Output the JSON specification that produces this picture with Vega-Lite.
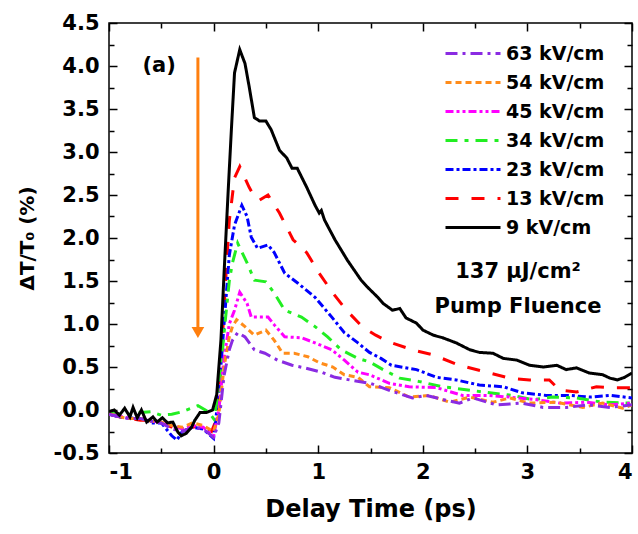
{
  "$schema": "https://vega.github.io/schema/vega-lite/v6.json",
  "width": 523,
  "height": 430,
  "autosize": {"type": "none"},
  "padding": {"left": 109, "top": 23, "right": 6, "bottom": 81},
  "config": {
    "font": "DejaVu Sans",
    "view": {"stroke": "black", "strokeWidth": 1.5},
    "axis": {"domain": false, "grid": false, "labelFont": "DejaVu Sans", "labelFontWeight": "bold", "labelFontSize": 21, "labelColor": "black", "titleFont": "DejaVu Sans", "titleFontWeight": "bold", "titleColor": "black", "tickColor": "black", "tickWidth": 1.5, "labelOverlap": false}
  },
  "datasets": {
    "curves": [
      {"s":"13 kV/cm","x":-1,"y":-0.05},{"s":"13 kV/cm","x":-0.9,"y":-0.08},{"s":"13 kV/cm","x":-0.8,"y":-0.1},{"s":"13 kV/cm","x":-0.7,"y":-0.12},{"s":"13 kV/cm","x":-0.6,"y":-0.12},{"s":"13 kV/cm","x":-0.5,"y":-0.15},{"s":"13 kV/cm","x":-0.4,"y":-0.2},{"s":"13 kV/cm","x":-0.3,"y":-0.25},{"s":"13 kV/cm","x":-0.2,"y":-0.2},{"s":"13 kV/cm","x":-0.1,"y":-0.18},{"s":"13 kV/cm","x":-0.02,"y":-0.25},{"s":"13 kV/cm","x":0.03,"y":-0.1},{"s":"13 kV/cm","x":0.07,"y":0.5},{"s":"13 kV/cm","x":0.1,"y":1.2},{"s":"13 kV/cm","x":0.15,"y":2.2},{"s":"13 kV/cm","x":0.2,"y":2.7},{"s":"13 kV/cm","x":0.25,"y":2.83},{"s":"13 kV/cm","x":0.34,"y":2.59},{"s":"13 kV/cm","x":0.4,"y":2.46},{"s":"13 kV/cm","x":0.44,"y":2.44},{"s":"13 kV/cm","x":0.52,"y":2.5},{"s":"13 kV/cm","x":0.63,"y":2.29},{"s":"13 kV/cm","x":0.76,"y":1.98},{"s":"13 kV/cm","x":0.89,"y":1.83},{"s":"13 kV/cm","x":1.01,"y":1.59},{"s":"13 kV/cm","x":1.14,"y":1.36},{"s":"13 kV/cm","x":1.27,"y":1.16},{"s":"13 kV/cm","x":1.42,"y":0.97},{"s":"13 kV/cm","x":1.55,"y":0.87},{"s":"13 kV/cm","x":1.68,"y":0.79},{"s":"13 kV/cm","x":1.9,"y":0.7},{"s":"13 kV/cm","x":2.1,"y":0.64},{"s":"13 kV/cm","x":2.35,"y":0.52},{"s":"13 kV/cm","x":2.61,"y":0.44},{"s":"13 kV/cm","x":2.83,"y":0.37},{"s":"13 kV/cm","x":3.02,"y":0.35},{"s":"13 kV/cm","x":3.21,"y":0.35},{"s":"13 kV/cm","x":3.31,"y":0.23},{"s":"13 kV/cm","x":3.47,"y":0.21},{"s":"13 kV/cm","x":3.66,"y":0.27},{"s":"13 kV/cm","x":3.79,"y":0.26},{"s":"13 kV/cm","x":4.0,"y":0.26},

      {"s":"23 kV/cm","x":-1,"y":-0.05},{"s":"23 kV/cm","x":-0.9,"y":-0.08},{"s":"23 kV/cm","x":-0.8,"y":-0.1},{"s":"23 kV/cm","x":-0.7,"y":-0.08},{"s":"23 kV/cm","x":-0.6,"y":-0.15},{"s":"23 kV/cm","x":-0.5,"y":-0.15},{"s":"23 kV/cm","x":-0.4,"y":-0.3},{"s":"23 kV/cm","x":-0.35,"y":-0.35},{"s":"23 kV/cm","x":-0.3,"y":-0.25},{"s":"23 kV/cm","x":-0.2,"y":-0.2},{"s":"23 kV/cm","x":-0.1,"y":-0.22},{"s":"23 kV/cm","x":0,"y":-0.33},{"s":"23 kV/cm","x":0.05,"y":0.2},{"s":"23 kV/cm","x":0.1,"y":1.0},{"s":"23 kV/cm","x":0.15,"y":1.8},{"s":"23 kV/cm","x":0.2,"y":2.15},{"s":"23 kV/cm","x":0.27,"y":2.38},{"s":"23 kV/cm","x":0.32,"y":2.25},{"s":"23 kV/cm","x":0.36,"y":2.01},{"s":"23 kV/cm","x":0.42,"y":1.88},{"s":"23 kV/cm","x":0.52,"y":1.92},{"s":"23 kV/cm","x":0.58,"y":1.83},{"s":"23 kV/cm","x":0.68,"y":1.59},{"s":"23 kV/cm","x":0.8,"y":1.48},{"s":"23 kV/cm","x":0.97,"y":1.31},{"s":"23 kV/cm","x":1.13,"y":1.08},{"s":"23 kV/cm","x":1.25,"y":0.9},{"s":"23 kV/cm","x":1.38,"y":0.78},{"s":"23 kV/cm","x":1.49,"y":0.67},{"s":"23 kV/cm","x":1.6,"y":0.6},{"s":"23 kV/cm","x":1.7,"y":0.52},{"s":"23 kV/cm","x":1.94,"y":0.47},{"s":"23 kV/cm","x":2.13,"y":0.38},{"s":"23 kV/cm","x":2.32,"y":0.35},{"s":"23 kV/cm","x":2.54,"y":0.29},{"s":"23 kV/cm","x":2.77,"y":0.27},{"s":"23 kV/cm","x":2.95,"y":0.2},{"s":"23 kV/cm","x":3.18,"y":0.17},{"s":"23 kV/cm","x":3.4,"y":0.17},{"s":"23 kV/cm","x":3.59,"y":0.15},{"s":"23 kV/cm","x":3.79,"y":0.17},{"s":"23 kV/cm","x":4.0,"y":0.14},

      {"s":"34 kV/cm","x":-1,"y":-0.02},{"s":"34 kV/cm","x":-0.9,"y":-0.05},{"s":"34 kV/cm","x":-0.8,"y":-0.05},{"s":"34 kV/cm","x":-0.7,"y":-0.03},{"s":"34 kV/cm","x":-0.6,"y":-0.02},{"s":"34 kV/cm","x":-0.5,"y":-0.06},{"s":"34 kV/cm","x":-0.4,"y":-0.05},{"s":"34 kV/cm","x":-0.3,"y":-0.02},{"s":"34 kV/cm","x":-0.15,"y":0.05},{"s":"34 kV/cm","x":-0.05,"y":-0.02},{"s":"34 kV/cm","x":0,"y":-0.1},{"s":"34 kV/cm","x":0.05,"y":0.2},{"s":"34 kV/cm","x":0.1,"y":0.9},{"s":"34 kV/cm","x":0.15,"y":1.5},{"s":"34 kV/cm","x":0.18,"y":1.71},{"s":"34 kV/cm","x":0.23,"y":1.94},{"s":"34 kV/cm","x":0.32,"y":1.71},{"s":"34 kV/cm","x":0.39,"y":1.51},{"s":"34 kV/cm","x":0.5,"y":1.49},{"s":"34 kV/cm","x":0.58,"y":1.36},{"s":"34 kV/cm","x":0.68,"y":1.16},{"s":"34 kV/cm","x":0.84,"y":1.08},{"s":"34 kV/cm","x":0.97,"y":0.97},{"s":"34 kV/cm","x":1.09,"y":0.85},{"s":"34 kV/cm","x":1.22,"y":0.7},{"s":"34 kV/cm","x":1.38,"y":0.6},{"s":"34 kV/cm","x":1.49,"y":0.56},{"s":"34 kV/cm","x":1.62,"y":0.47},{"s":"34 kV/cm","x":1.78,"y":0.37},{"s":"34 kV/cm","x":1.97,"y":0.33},{"s":"34 kV/cm","x":2.19,"y":0.27},{"s":"34 kV/cm","x":2.45,"y":0.23},{"s":"34 kV/cm","x":2.64,"y":0.2},{"s":"34 kV/cm","x":2.86,"y":0.17},{"s":"34 kV/cm","x":3.05,"y":0.12},{"s":"34 kV/cm","x":3.24,"y":0.15},{"s":"34 kV/cm","x":3.47,"y":0.14},{"s":"34 kV/cm","x":3.72,"y":0.09},{"s":"34 kV/cm","x":4.0,"y":0.08},

      {"s":"45 kV/cm","x":-1,"y":-0.05},{"s":"45 kV/cm","x":-0.9,"y":-0.07},{"s":"45 kV/cm","x":-0.8,"y":-0.1},{"s":"45 kV/cm","x":-0.7,"y":-0.1},{"s":"45 kV/cm","x":-0.6,"y":-0.12},{"s":"45 kV/cm","x":-0.5,"y":-0.15},{"s":"45 kV/cm","x":-0.4,"y":-0.18},{"s":"45 kV/cm","x":-0.3,"y":-0.22},{"s":"45 kV/cm","x":-0.2,"y":-0.18},{"s":"45 kV/cm","x":-0.1,"y":-0.2},{"s":"45 kV/cm","x":0,"y":-0.3},{"s":"45 kV/cm","x":0.05,"y":0.0},{"s":"45 kV/cm","x":0.1,"y":0.6},{"s":"45 kV/cm","x":0.15,"y":1.0},{"s":"45 kV/cm","x":0.2,"y":1.16},{"s":"45 kV/cm","x":0.25,"y":1.37},{"s":"45 kV/cm","x":0.32,"y":1.24},{"s":"45 kV/cm","x":0.36,"y":1.08},{"s":"45 kV/cm","x":0.46,"y":1.08},{"s":"45 kV/cm","x":0.52,"y":1.08},{"s":"45 kV/cm","x":0.58,"y":0.99},{"s":"45 kV/cm","x":0.68,"y":0.85},{"s":"45 kV/cm","x":0.84,"y":0.84},{"s":"45 kV/cm","x":0.97,"y":0.78},{"s":"45 kV/cm","x":1.13,"y":0.7},{"s":"45 kV/cm","x":1.25,"y":0.58},{"s":"45 kV/cm","x":1.38,"y":0.44},{"s":"45 kV/cm","x":1.49,"y":0.41},{"s":"45 kV/cm","x":1.68,"y":0.31},{"s":"45 kV/cm","x":1.87,"y":0.27},{"s":"45 kV/cm","x":2.13,"y":0.26},{"s":"45 kV/cm","x":2.38,"y":0.17},{"s":"45 kV/cm","x":2.61,"y":0.17},{"s":"45 kV/cm","x":2.83,"y":0.15},{"s":"45 kV/cm","x":3.09,"y":0.12},{"s":"45 kV/cm","x":3.31,"y":0.08},{"s":"45 kV/cm","x":3.57,"y":0.09},{"s":"45 kV/cm","x":3.79,"y":0.06},{"s":"45 kV/cm","x":4.0,"y":0.08},

      {"s":"54 kV/cm","x":-1,"y":-0.04},{"s":"54 kV/cm","x":-0.9,"y":-0.08},{"s":"54 kV/cm","x":-0.8,"y":-0.1},{"s":"54 kV/cm","x":-0.7,"y":-0.1},{"s":"54 kV/cm","x":-0.6,"y":-0.13},{"s":"54 kV/cm","x":-0.5,"y":-0.14},{"s":"54 kV/cm","x":-0.4,"y":-0.18},{"s":"54 kV/cm","x":-0.3,"y":-0.2},{"s":"54 kV/cm","x":-0.2,"y":-0.15},{"s":"54 kV/cm","x":-0.1,"y":-0.18},{"s":"54 kV/cm","x":0,"y":-0.25},{"s":"54 kV/cm","x":0.05,"y":-0.05},{"s":"54 kV/cm","x":0.1,"y":0.5},{"s":"54 kV/cm","x":0.15,"y":0.85},{"s":"54 kV/cm","x":0.18,"y":0.97},{"s":"54 kV/cm","x":0.22,"y":1.05},{"s":"54 kV/cm","x":0.3,"y":0.97},{"s":"54 kV/cm","x":0.39,"y":0.87},{"s":"54 kV/cm","x":0.5,"y":0.93},{"s":"54 kV/cm","x":0.58,"y":0.81},{"s":"54 kV/cm","x":0.66,"y":0.66},{"s":"54 kV/cm","x":0.77,"y":0.66},{"s":"54 kV/cm","x":0.9,"y":0.62},{"s":"54 kV/cm","x":1.01,"y":0.55},{"s":"54 kV/cm","x":1.14,"y":0.5},{"s":"54 kV/cm","x":1.25,"y":0.41},{"s":"54 kV/cm","x":1.38,"y":0.38},{"s":"54 kV/cm","x":1.49,"y":0.27},{"s":"54 kV/cm","x":1.68,"y":0.26},{"s":"54 kV/cm","x":1.87,"y":0.15},{"s":"54 kV/cm","x":2.06,"y":0.17},{"s":"54 kV/cm","x":2.26,"y":0.09},{"s":"54 kV/cm","x":2.45,"y":0.15},{"s":"54 kV/cm","x":2.67,"y":0.09},{"s":"54 kV/cm","x":2.83,"y":0.14},{"s":"54 kV/cm","x":3.02,"y":0.08},{"s":"54 kV/cm","x":3.28,"y":0.09},{"s":"54 kV/cm","x":3.53,"y":0.03},{"s":"54 kV/cm","x":3.72,"y":0.08},{"s":"54 kV/cm","x":3.91,"y":0.02},{"s":"54 kV/cm","x":4.0,"y":0.06},

      {"s":"63 kV/cm","x":-1,"y":-0.05},{"s":"63 kV/cm","x":-0.9,"y":-0.08},{"s":"63 kV/cm","x":-0.8,"y":-0.1},{"s":"63 kV/cm","x":-0.7,"y":-0.1},{"s":"63 kV/cm","x":-0.6,"y":-0.13},{"s":"63 kV/cm","x":-0.5,"y":-0.15},{"s":"63 kV/cm","x":-0.4,"y":-0.22},{"s":"63 kV/cm","x":-0.3,"y":-0.25},{"s":"63 kV/cm","x":-0.2,"y":-0.2},{"s":"63 kV/cm","x":-0.1,"y":-0.22},{"s":"63 kV/cm","x":0,"y":-0.32},{"s":"63 kV/cm","x":0.05,"y":-0.15},{"s":"63 kV/cm","x":0.1,"y":0.4},{"s":"63 kV/cm","x":0.15,"y":0.7},{"s":"63 kV/cm","x":0.18,"y":0.81},{"s":"63 kV/cm","x":0.23,"y":0.9},{"s":"63 kV/cm","x":0.3,"y":0.85},{"s":"63 kV/cm","x":0.39,"y":0.7},{"s":"63 kV/cm","x":0.49,"y":0.66},{"s":"63 kV/cm","x":0.61,"y":0.58},{"s":"63 kV/cm","x":0.75,"y":0.52},{"s":"63 kV/cm","x":0.87,"y":0.49},{"s":"63 kV/cm","x":1.03,"y":0.44},{"s":"63 kV/cm","x":1.16,"y":0.38},{"s":"63 kV/cm","x":1.3,"y":0.35},{"s":"63 kV/cm","x":1.5,"y":0.31},{"s":"63 kV/cm","x":1.7,"y":0.22},{"s":"63 kV/cm","x":1.9,"y":0.14},{"s":"63 kV/cm","x":2.03,"y":0.17},{"s":"63 kV/cm","x":2.2,"y":0.12},{"s":"63 kV/cm","x":2.35,"y":0.08},{"s":"63 kV/cm","x":2.48,"y":0.14},{"s":"63 kV/cm","x":2.7,"y":0.06},{"s":"63 kV/cm","x":2.95,"y":0.08},{"s":"63 kV/cm","x":3.15,"y":0.03},{"s":"63 kV/cm","x":3.37,"y":0.03},{"s":"63 kV/cm","x":3.59,"y":0.06},{"s":"63 kV/cm","x":3.79,"y":0.03},{"s":"63 kV/cm","x":4.0,"y":0.06},

      {"s":"9 kV/cm","x":-1,"y":-0.02},{"s":"9 kV/cm","x":-0.95,"y":0},{"s":"9 kV/cm","x":-0.9,"y":-0.06},{"s":"9 kV/cm","x":-0.85,"y":0.02},{"s":"9 kV/cm","x":-0.8,"y":-0.08},{"s":"9 kV/cm","x":-0.77,"y":0.03},{"s":"9 kV/cm","x":-0.73,"y":-0.09},{"s":"9 kV/cm","x":-0.69,"y":0},{"s":"9 kV/cm","x":-0.64,"y":-0.14},{"s":"9 kV/cm","x":-0.58,"y":-0.08},{"s":"9 kV/cm","x":-0.54,"y":-0.14},{"s":"9 kV/cm","x":-0.49,"y":-0.09},{"s":"9 kV/cm","x":-0.44,"y":-0.15},{"s":"9 kV/cm","x":-0.39,"y":-0.14},{"s":"9 kV/cm","x":-0.34,"y":-0.26},{"s":"9 kV/cm","x":-0.31,"y":-0.3},{"s":"9 kV/cm","x":-0.26,"y":-0.27},{"s":"9 kV/cm","x":-0.21,"y":-0.2},{"s":"9 kV/cm","x":-0.18,"y":-0.12},{"s":"9 kV/cm","x":-0.13,"y":-0.03},{"s":"9 kV/cm","x":-0.07,"y":-0.03},{"s":"9 kV/cm","x":-0.01,"y":0},{"s":"9 kV/cm","x":0.03,"y":0.18},{"s":"9 kV/cm","x":0.07,"y":0.81},{"s":"9 kV/cm","x":0.1,"y":1.59},{"s":"9 kV/cm","x":0.14,"y":2.56},{"s":"9 kV/cm","x":0.17,"y":3.26},{"s":"9 kV/cm","x":0.2,"y":3.92},{"s":"9 kV/cm","x":0.25,"y":4.19},{"s":"9 kV/cm","x":0.3,"y":4.03},{"s":"9 kV/cm","x":0.34,"y":3.76},{"s":"9 kV/cm","x":0.39,"y":3.4},{"s":"9 kV/cm","x":0.44,"y":3.36},{"s":"9 kV/cm","x":0.5,"y":3.36},{"s":"9 kV/cm","x":0.55,"y":3.26},{"s":"9 kV/cm","x":0.63,"y":3.02},{"s":"9 kV/cm","x":0.7,"y":2.93},{"s":"9 kV/cm","x":0.75,"y":2.81},{"s":"9 kV/cm","x":0.8,"y":2.81},{"s":"9 kV/cm","x":0.89,"y":2.59},{"s":"9 kV/cm","x":0.97,"y":2.38},{"s":"9 kV/cm","x":1.01,"y":2.29},{"s":"9 kV/cm","x":1.03,"y":2.32},{"s":"9 kV/cm","x":1.06,"y":2.21},{"s":"9 kV/cm","x":1.16,"y":1.98},{"s":"9 kV/cm","x":1.28,"y":1.74},{"s":"9 kV/cm","x":1.41,"y":1.51},{"s":"9 kV/cm","x":1.47,"y":1.43},{"s":"9 kV/cm","x":1.57,"y":1.31},{"s":"9 kV/cm","x":1.62,"y":1.24},{"s":"9 kV/cm","x":1.71,"y":1.16},{"s":"9 kV/cm","x":1.78,"y":1.18},{"s":"9 kV/cm","x":1.84,"y":1.07},{"s":"9 kV/cm","x":1.94,"y":1.01},{"s":"9 kV/cm","x":2.0,"y":0.93},{"s":"9 kV/cm","x":2.1,"y":0.87},{"s":"9 kV/cm","x":2.19,"y":0.84},{"s":"9 kV/cm","x":2.32,"y":0.78},{"s":"9 kV/cm","x":2.45,"y":0.7},{"s":"9 kV/cm","x":2.54,"y":0.67},{"s":"9 kV/cm","x":2.67,"y":0.66},{"s":"9 kV/cm","x":2.77,"y":0.6},{"s":"9 kV/cm","x":2.9,"y":0.58},{"s":"9 kV/cm","x":3.02,"y":0.52},{"s":"9 kV/cm","x":3.15,"y":0.5},{"s":"9 kV/cm","x":3.28,"y":0.52},{"s":"9 kV/cm","x":3.37,"y":0.47},{"s":"9 kV/cm","x":3.47,"y":0.49},{"s":"9 kV/cm","x":3.59,"y":0.43},{"s":"9 kV/cm","x":3.72,"y":0.41},{"s":"9 kV/cm","x":3.79,"y":0.37},{"s":"9 kV/cm","x":3.86,"y":0.35},{"s":"9 kV/cm","x":3.93,"y":0.38},{"s":"9 kV/cm","x":4.0,"y":0.43}
    ],
    "arrow": [{"x": -0.15, "y": 4.1, "y2": 0.95, "tip": 0.9}],
    "labels": [
      {"x": -0.52, "y": 4.0, "t": "(a)"},
      {"x": 2.91, "y": 1.6, "t": "137 μJ/cm²"},
      {"x": 2.91, "y": 1.2, "t": "Pump Fluence"}
    ]
  },
  "resolve": {"axis": {"x": "independent", "y": "independent"}},
  "layer": [
    {
      "data": {"name": "curves"},
      "mark": {"type": "line", "strokeWidth": 3, "clip": true},
      "encoding": {
        "x": {"field": "x", "type": "quantitative", "scale": {"domain": [-1, 4], "nice": false, "zero": false},
          "axis": {"orient": "bottom", "title": "Delay Time (ps)", "titleFontSize": 24, "values": [-1, -0.5, 0, 0.5, 1, 1.5, 2, 2.5, 3, 3.5, 4],
            "labelExpr": "datum.value % 1 == 0 ? replace(format(datum.value, 'd'), '−', '-') : ''",
            "tickSize": {"condition": {"test": "datum.value % 1 == 0", "value": -8}, "value": -5},
            "labelPadding": 16, "titlePadding": 12}},
        "y": {"field": "y", "type": "quantitative", "scale": {"domain": [-0.5, 4.5], "nice": false, "zero": false},
          "axis": {"orient": "left", "title": "ΔT/T₀ (%)", "titleFontSize": 20, "values": [-0.5, -0.25, 0, 0.25, 0.5, 0.75, 1, 1.25, 1.5, 1.75, 2, 2.25, 2.5, 2.75, 3, 3.25, 3.5, 3.75, 4, 4.25, 4.5],
            "labelExpr": "datum.value % 0.5 == 0 ? replace(format(datum.value, '.1f'), '−', '-') : ''",
            "tickSize": {"condition": {"test": "datum.value % 0.5 == 0", "value": -8}, "value": -5},
            "labelPadding": 18, "titlePadding": 16}},
        "color": {"field": "s", "type": "nominal",
          "scale": {"domain": ["63 kV/cm", "54 kV/cm", "45 kV/cm", "34 kV/cm", "23 kV/cm", "13 kV/cm", "9 kV/cm"],
            "range": ["#8a2be2", "#ff8c1a", "#ff00ff", "#22ee22", "#0000ff", "#ff0000", "#000000"]},
          "legend": {"title": null, "orient": "none", "legendX": 335, "legendY": 16, "symbolType": "stroke", "symbolSize": 3025, "symbolStrokeWidth": 3, "labelFontSize": 19, "labelFont": "DejaVu Sans", "labelFontWeight": "bold", "labelColor": "black", "labelOffset": 4, "rowPadding": 0, "clipHeight": 29}},
        "strokeDash": {"field": "s", "type": "nominal",
          "scale": {"domain": ["63 kV/cm", "54 kV/cm", "45 kV/cm", "34 kV/cm", "23 kV/cm", "13 kV/cm", "9 kV/cm"],
            "range": [[12, 5, 3, 5], [6, 4], [8, 3, 3, 3, 3, 3], [12, 7, 4, 7], [8, 3, 3, 3], [13, 13], [1, 0]]},
          "legend": {"title": null, "orient": "none", "legendX": 335, "legendY": 16, "symbolType": "stroke", "symbolSize": 3025, "symbolStrokeWidth": 3, "labelFontSize": 19, "labelFont": "DejaVu Sans", "labelFontWeight": "bold", "labelColor": "black", "labelOffset": 4, "rowPadding": 0, "clipHeight": 29}}
      }
    },
    {
      "data": {"name": "arrow"},
      "mark": {"type": "rule", "color": "#ff7f0e", "strokeWidth": 3},
      "encoding": {
        "x": {"field": "x", "type": "quantitative",
          "axis": {"orient": "top", "title": null, "labels": false, "values": [-1, -0.5, 0, 0.5, 1, 1.5, 2, 2.5, 3, 3.5, 4],
            "tickSize": {"condition": {"test": "datum.value % 1 == 0", "value": -8}, "value": -5}}},
        "y": {"field": "y", "type": "quantitative",
          "axis": {"orient": "right", "title": null, "labels": false, "values": [-0.5, -0.25, 0, 0.25, 0.5, 0.75, 1, 1.25, 1.5, 1.75, 2, 2.25, 2.5, 2.75, 3, 3.25, 3.5, 3.75, 4, 4.25, 4.5],
            "tickSize": {"condition": {"test": "datum.value % 0.5 == 0", "value": -8}, "value": -5}}},
        "y2": {"field": "y2"}
      }
    },
    {
      "data": {"name": "arrow"},
      "mark": {"type": "point", "shape": "triangle-down", "filled": true, "color": "#ff7f0e", "size": 160, "opacity": 1},
      "encoding": {
        "x": {"field": "x", "type": "quantitative", "axis": null},
        "y": {"field": "tip", "type": "quantitative", "axis": null}
      }
    },
    {
      "data": {"name": "labels"},
      "mark": {"type": "text", "font": "DejaVu Sans", "fontWeight": "bold", "fontSize": 21, "color": "black", "align": "center", "baseline": "middle"},
      "encoding": {
        "x": {"field": "x", "type": "quantitative", "axis": null},
        "y": {"field": "y", "type": "quantitative", "axis": null},
        "text": {"field": "t"}
      }
    }
  ]
}
